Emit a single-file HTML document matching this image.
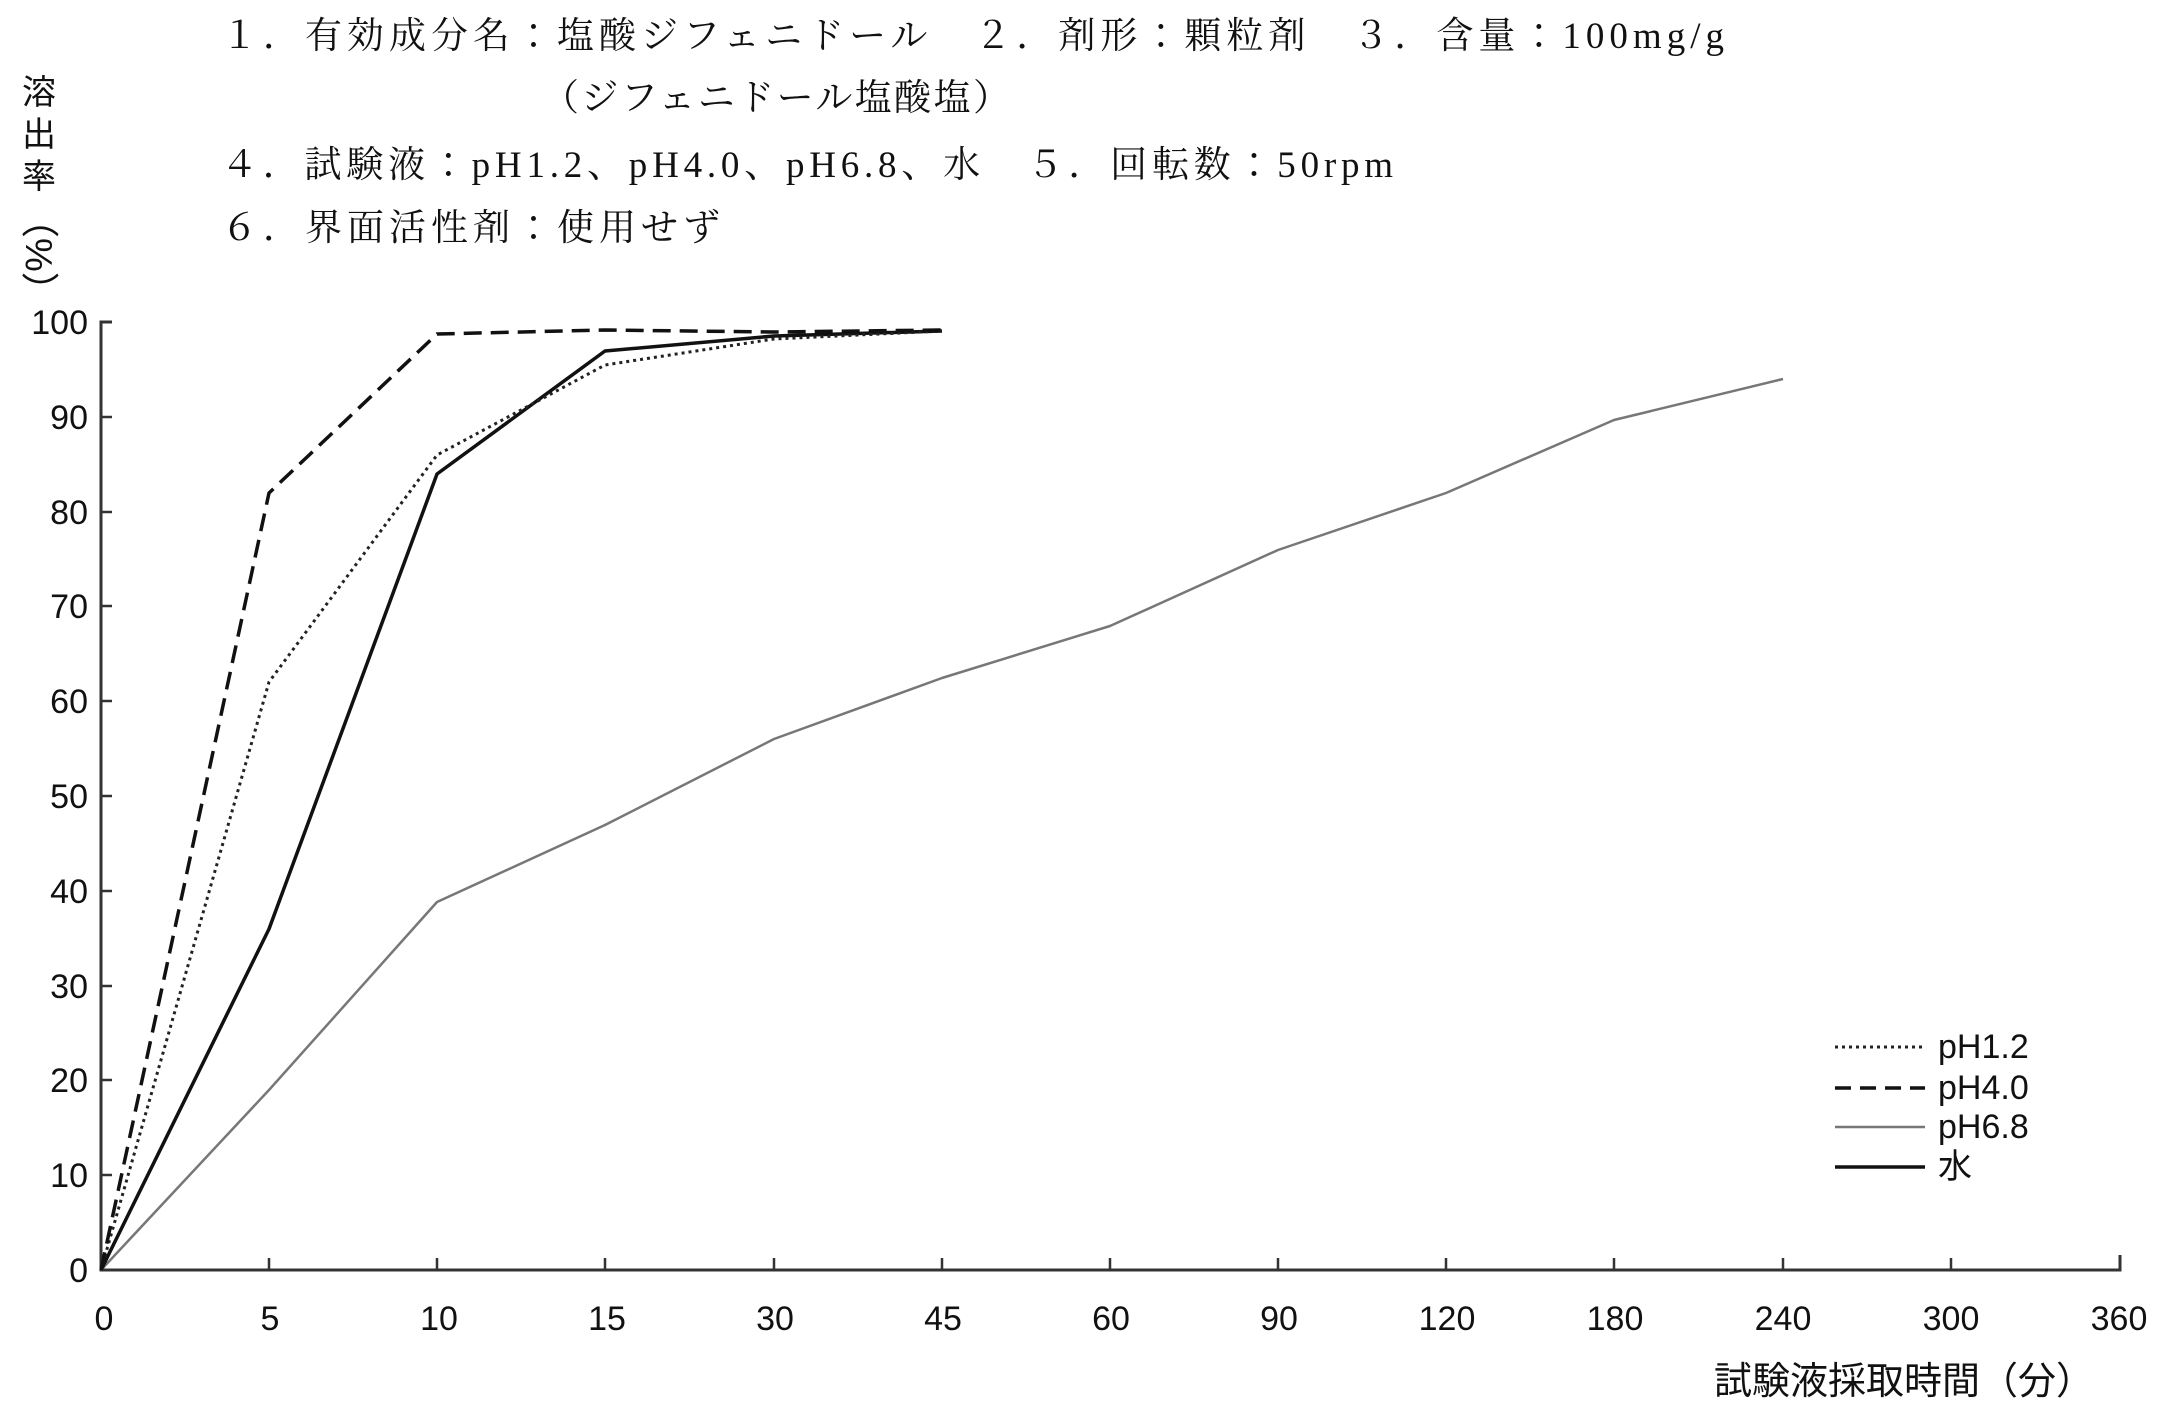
<!DOCTYPE html>
<html><head><meta charset="utf-8"><style>
html,body{margin:0;padding:0;background:#fff}
svg{display:block}
.h{font-family:"Liberation Serif","Noto Serif CJK JP","Noto Serif CJK SC",serif;font-size:37px;fill:#111}
.t{font-family:"Liberation Sans","Noto Sans CJK JP",sans-serif;font-size:34px;fill:#111}
</style></head><body>
<svg width="2163" height="1417" viewBox="0 0 2163 1417" xmlns="http://www.w3.org/2000/svg">
<text class="h" x="221" y="48" textLength="1503" lengthAdjust="spacing">１．有効成分名：塩酸ジフェニドール　２．剤形：顆粒剤　３．含量：100mg/g</text>
<text class="h" x="542" y="110" textLength="468" lengthAdjust="spacing">（ジフェニドール塩酸塩）</text>
<text class="h" x="221" y="177" textLength="1172" lengthAdjust="spacing">４．試験液：pH1.2、pH4.0、pH6.8、水　５．回転数：50rpm</text>
<text class="h" x="221" y="240" textLength="499" lengthAdjust="spacing">６．界面活性剤：使用せず</text>
<g class="t" font-size="34">
<text x="22" y="104">溶</text><text x="22" y="146">出</text><text x="22" y="188">率</text>
<text x="26" y="200" transform="rotate(90 26 200)" font-size="38">（%）</text>
</g>
<g stroke="#333" stroke-width="3" fill="none">
<path d="M112 322 H101 V1270 H2120 V1255"/>
</g>
<g stroke="#333" stroke-width="2.5">
<line x1="101" y1="417" x2="112" y2="417"/><line x1="101" y1="512" x2="112" y2="512"/>
<line x1="101" y1="606" x2="112" y2="606"/><line x1="101" y1="701" x2="112" y2="701"/>
<line x1="101" y1="796" x2="112" y2="796"/><line x1="101" y1="891" x2="112" y2="891"/>
<line x1="101" y1="986" x2="112" y2="986"/><line x1="101" y1="1080" x2="112" y2="1080"/>
<line x1="101" y1="1175" x2="112" y2="1175"/>
<line x1="269" y1="1270" x2="269" y2="1258"/><line x1="437" y1="1270" x2="437" y2="1258"/>
<line x1="605" y1="1270" x2="605" y2="1258"/><line x1="774" y1="1270" x2="774" y2="1258"/>
<line x1="942" y1="1270" x2="942" y2="1258"/><line x1="1110" y1="1270" x2="1110" y2="1258"/>
<line x1="1278" y1="1270" x2="1278" y2="1258"/><line x1="1446" y1="1270" x2="1446" y2="1258"/>
<line x1="1614" y1="1270" x2="1614" y2="1258"/><line x1="1783" y1="1270" x2="1783" y2="1258"/>
<line x1="1951" y1="1270" x2="1951" y2="1258"/>
</g>
<g class="t" text-anchor="end">
<text x="88" y="334">100</text><text x="88" y="429">90</text><text x="88" y="524">80</text>
<text x="88" y="618">70</text><text x="88" y="713">60</text><text x="88" y="808">50</text>
<text x="88" y="903">40</text><text x="88" y="998">30</text><text x="88" y="1092">20</text>
<text x="88" y="1187">10</text><text x="88" y="1282">0</text>
</g>
<g class="t" text-anchor="middle">
<text x="104" y="1330">0</text><text x="270" y="1330">5</text><text x="439" y="1330">10</text>
<text x="607" y="1330">15</text><text x="775" y="1330">30</text><text x="943" y="1330">45</text>
<text x="1111" y="1330">60</text><text x="1279" y="1330">90</text><text x="1447" y="1330">120</text>
<text x="1615" y="1330">180</text><text x="1783" y="1330">240</text><text x="1951" y="1330">300</text>
<text x="2119" y="1330">360</text>
<text x="1904" y="1394" font-size="38">試験液採取時間（分）</text>
</g>
<g fill="none" stroke-linejoin="round">
<polyline stroke="#777" stroke-width="2.5" points="101,1270 269,1090 437,902 605,825 774,739 942,678 1110,626 1278,550 1446,493 1614,420 1783,379"/>
<polyline stroke="#111" stroke-width="3.5" points="101,1270 269,929 437,474 605,351 774,336 942,331"/>
<polyline stroke="#222" stroke-width="3" stroke-dasharray="3,4" points="101,1270 269,682 437,455 605,365 774,339 942,331"/>
<polyline stroke="#111" stroke-width="3.5" stroke-dasharray="18,9" points="101,1270 269,493 437,334 605,330 774,332 942,330"/>
</g>
<g fill="none">
<line x1="1835" y1="1047" x2="1925" y2="1047" stroke="#222" stroke-width="3" stroke-dasharray="3,4"/>
<line x1="1835" y1="1088" x2="1925" y2="1088" stroke="#111" stroke-width="3.5" stroke-dasharray="16,9"/>
<line x1="1835" y1="1127" x2="1925" y2="1127" stroke="#777" stroke-width="2.5"/>
<line x1="1835" y1="1167" x2="1925" y2="1167" stroke="#111" stroke-width="3.5"/>
</g>
<g class="t">
<text x="1938" y="1058">pH1.2</text>
<text x="1938" y="1099">pH4.0</text>
<text x="1938" y="1138">pH6.8</text>
<text x="1938" y="1178">水</text>
</g>
</svg>
</body></html>
